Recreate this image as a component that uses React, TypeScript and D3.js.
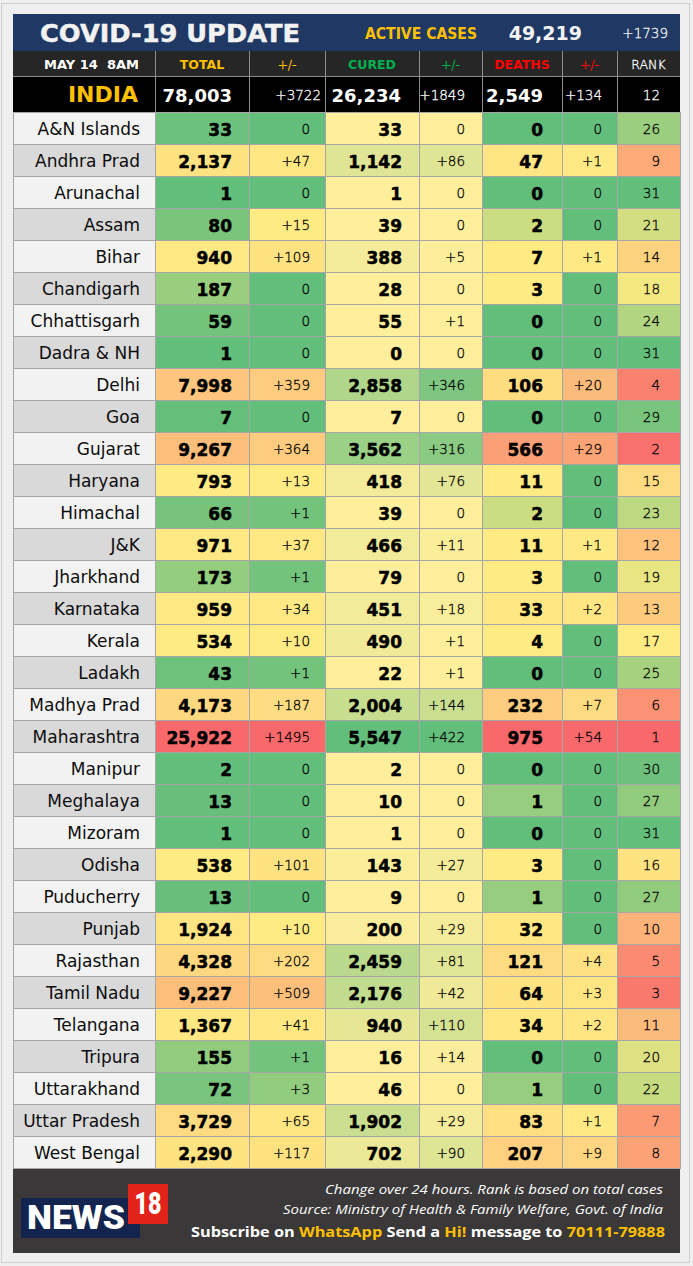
import * as d3 from 'd3'

// ---- data ----
const states = ['A&N Islands', 'Andhra Prad', 'Arunachal', 'Assam', 'Bihar', 'Chandigarh', 'Chhattisgarh', 'Dadra & NH', 'Delhi', 'Goa', 'Gujarat', 'Haryana', 'Himachal', 'J&K', 'Jharkhand', 'Karnataka', 'Kerala', 'Ladakh', 'Madhya Prad', 'Maharashtra', 'Manipur', 'Meghalaya', 'Mizoram', 'Odisha', 'Puducherry', 'Punjab', 'Rajasthan', 'Tamil Nadu', 'Telangana', 'Tripura', 'Uttarakhand', 'Uttar Pradesh', 'West Bengal']
const total = [33, 2137, 1, 80, 940, 187, 59, 1, 7998, 7, 9267, 793, 66, 971, 173, 959, 534, 43, 4173, 25922, 2, 13, 1, 538, 13, 1924, 4328, 9227, 1367, 155, 72, 3729, 2290]
const totalChange = [0, 47, 0, 15, 109, 0, 0, 0, 359, 0, 364, 13, 1, 37, 1, 34, 10, 1, 187, 1495, 0, 0, 0, 101, 0, 10, 202, 509, 41, 1, 3, 65, 117]
const cured = [33, 1142, 1, 39, 388, 28, 55, 0, 2858, 7, 3562, 418, 39, 466, 79, 451, 490, 22, 2004, 5547, 2, 10, 1, 143, 9, 200, 2459, 2176, 940, 16, 46, 1902, 702]
const curedChange = [0, 86, 0, 0, 5, 0, 1, 0, 346, 0, 316, 76, 0, 11, 0, 18, 1, 1, 144, 422, 0, 0, 0, 27, 0, 29, 81, 42, 110, 14, 0, 29, 90]
const deaths = [0, 47, 0, 2, 7, 3, 0, 0, 106, 0, 566, 11, 2, 11, 3, 33, 4, 0, 232, 975, 0, 1, 0, 3, 1, 32, 121, 64, 34, 0, 1, 83, 207]
const deathsChange = [0, 1, 0, 0, 1, 0, 0, 0, 20, 0, 29, 0, 0, 1, 0, 2, 0, 0, 7, 54, 0, 0, 0, 0, 0, 0, 4, 3, 2, 0, 0, 1, 9]
const rank = [26, 9, 31, 21, 14, 18, 24, 31, 4, 29, 2, 15, 23, 12, 19, 13, 17, 25, 6, 1, 30, 27, 31, 16, 27, 10, 5, 3, 11, 20, 22, 7, 8]

const headers = ['MAY 14  8AM', 'TOTAL', '+/-', 'CURED', '+/-', 'DEATHS', '+/-', 'RANK']
const india = [78003, 3722, 26234, 1849, 2549, 134, 12]
const activeCases = 49219
const activeChange = 1739

// ---- layout ----
const W = 693
const H = 1266
const cols = [13, 155, 249, 325, 419, 482, 562, 617, 680]
const bodyRight = [140, 232, 310, 402, 465, 543, 602, 660]
const indiaRight = [138, 232, 321, 401, 465, 543, 602, 660]
const headerColors = ['#ffffff', '#ffc000', '#ffc000', '#00b050', '#00b050', '#ff0000', '#ff0000', '#ffffff']
const headerWeights = [700, 700, 300, 700, 300, 700, 300, 300]

const FONT = "'DejaVu Sans', sans-serif"
const GREEN = '#63be7b'
const YELLOW = '#ffeb84'
const RED = '#f8696b'
const PALE = '#ffef9c'

// excel style 3 colour scale: min / 50th percentile / max
const threeScale = (vals: number[], lo: string, hi: string) => {
  const s = vals.slice().sort(d3.ascending)
  const min = s[0], max = s[s.length - 1]
  const mid = d3.quantile(s, 0.5) as number
  return (v: number) => {
    if (v <= min) return lo
    if (v <= mid) return d3.interpolateRgb(lo, YELLOW)((v - min) / (mid - min))
    return d3.interpolateRgb(YELLOW, hi)((v - mid) / (max - mid))
  }
}
const twoScale = (vals: number[]) => {
  const sc = d3.scaleLinear<string>().domain(d3.extent(vals) as [number, number]).range([PALE, GREEN]).interpolate(d3.interpolateRgb)
  return (v: number) => sc(v)
}

const fmt = d3.format(',')
const fmtChange = (v: number) => (v > 0 ? '+' + v : '0')

const columns = [
  { vals: total, color: threeScale(total, GREEN, RED), text: fmt, bold: true },
  { vals: totalChange, color: threeScale(totalChange, GREEN, RED), text: fmtChange, bold: false },
  { vals: cured, color: twoScale(cured), text: fmt, bold: true },
  { vals: curedChange, color: twoScale(curedChange), text: fmtChange, bold: false },
  { vals: deaths, color: threeScale(deaths, GREEN, RED), text: fmt, bold: true },
  { vals: deathsChange, color: threeScale(deathsChange, GREEN, RED), text: fmtChange, bold: false },
  { vals: rank, color: threeScale(rank, RED, GREEN), text: (v: number) => String(v), bold: false },
]

export default function App() {
  const y = d3.scaleBand().domain(states).range([112, 1168])
  const bh = y.bandwidth()

  return (
    <svg width={W} height={H} style={{ position: 'absolute', left: 0, top: 0, display: 'block' }} fontFamily={FONT}>
      <rect width={W} height={H} fill="#efefef" />
      <rect x={1.5} y={3.5} width={688} height={1259} fill="none" stroke="#cfcfcf" />

      {/* title bar */}
      <rect x={13} y={14} width={667} height={37} fill="#1f3864" />
      <text x={40} y={42} fontSize={25} fontWeight={700} fill="#f2f2f2" stroke="#f2f2f2" strokeWidth={0.5}
        textLength={260} lengthAdjust="spacingAndGlyphs">COVID-19 UPDATE</text>
      <text x={365} y={38.5} fontSize={15} fontWeight={700} fill="#ffc000" textLength={112} lengthAdjust="spacingAndGlyphs">ACTIVE CASES</text>
      <text x={582} y={40} fontSize={19} fontWeight={700} fill="#f2f2f2" textAnchor="end">{fmt(activeCases)}</text>
      <text x={668} y={38} fontSize={13.5} fontWeight={300} fill="#f2f2f2" stroke="#f2f2f2" strokeWidth={0.3}
        textAnchor="end">{'+' + activeChange}</text>

      {/* header row */}
      <rect x={13} y={51} width={667} height={25} fill="#262626" />
      {headers.map((h, i) => (
        <text key={'h' + i} x={i === 0 ? 139 : (cols[i] + cols[i + 1]) / 2} y={68.5} fontSize={i === 0 ? 13 : 12.5}
          fontWeight={headerWeights[i]} fill={headerColors[i]} textAnchor={i === 0 ? 'end' : 'middle'}
          stroke={headerWeights[i] === 300 ? headerColors[i] : 'none'} strokeWidth={0.3}
          style={{ whiteSpace: 'pre' }}>{h}</text>
      ))}

      {/* india row */}
      <rect x={13} y={76} width={667} height={36} fill="#000000" />
      <text x={indiaRight[0]} y={102} fontSize={22} fontWeight={700} fill="#ffc000" textAnchor="end">INDIA</text>
      {india.map((v, i) => {
        const big = i % 2 === 0 && i < 6
        return (
          <text key={'in' + i} x={indiaRight[i + 1]} y={big ? 101.5 : 100} textAnchor="end" fill="#ffffff"
            stroke={big ? 'none' : '#ffffff'} strokeWidth={0.3}
            fontSize={big ? 18 : 13.5} fontWeight={big ? 700 : 300}>
            {i === 6 ? String(v) : i % 2 === 0 ? fmt(v) : '+' + v}
          </text>
        )
      })}
      {cols.slice(1, -1).map((c) => (
        <line key={'v' + c} x1={c + 0.5} x2={c + 0.5} y1={51} y2={112} stroke="#8c8c8c" />
      ))}
      <line x1={13} x2={680} y1={76.5} y2={76.5} stroke="#8c8c8c" />

      {/* body */}
      {states.map((s, r) => {
        const top = y(s) as number
        return (
          <g key={s}>
            <rect x={cols[0] + 0.5} y={top + 0.5} width={cols[1] - cols[0]} height={bh}
              fill={r % 2 === 0 ? '#f2f2f2' : '#d9d9d9'} stroke="#a6a6a6" />
            <text x={bodyRight[0]} y={top + 23} fontSize={17} fill="#0d0d0d" textAnchor="end">{s}</text>
            {columns.map((c, ci) => (
              <g key={ci}>
                <rect x={cols[ci + 1] + 0.5} y={top + 0.5} width={cols[ci + 2] - cols[ci + 1]} height={bh}
                  fill={c.color(c.vals[r])} stroke="#a6a6a6" />
                <text x={bodyRight[ci + 1]} y={c.bold ? top + 24 : top + 22} textAnchor="end" fill="#000000"
                  stroke="#000000" strokeWidth={c.bold ? 0.5 : 0.3}
                  fontSize={c.bold ? 17 : 13.5} fontWeight={c.bold ? 700 : 300}>{c.text(c.vals[r])}</text>
              </g>
            ))}
          </g>
        )
      })}

      {/* footer */}
      <rect x={13} y={1169} width={667} height={84} fill="#3a3838" />
      <rect x={21} y={1198} width={119} height={40} fill="#13254f" />
      <text x={27} y={1229} fontFamily="Roboto, sans-serif" fontSize={34} fontWeight={900} fill="#ffffff"
        textLength={98} lengthAdjust="spacingAndGlyphs">NEWS</text>
      <rect x={128} y={1184} width={40} height={40} fill="#e2231a" />
      <text x={148} y={1214} fontFamily="Roboto, sans-serif" fontSize={31} fontWeight={900} fill="#ffffff"
        textAnchor="middle" textLength={27} lengthAdjust="spacingAndGlyphs">18</text>
      <text x={663} y={1194} fontFamily="'Open Sans', sans-serif" fontStyle="italic" fontSize={13} fill="#ffffff"
        textAnchor="end" textLength={338} lengthAdjust="spacingAndGlyphs">Change over 24 hours. Rank is based on total cases</text>
      <text x={663} y={1214} fontFamily="'Open Sans', sans-serif" fontStyle="italic" fontSize={13} fill="#ffffff"
        textAnchor="end" textLength={380} lengthAdjust="spacingAndGlyphs">Source: Ministry of Health &amp; Family Welfare, Govt. of India</text>
      <text x={191} y={1237} fontFamily="'Open Sans', sans-serif" fontSize={15} fontWeight={700} fill="#ffffff"
        textLength={474} lengthAdjust="spacingAndGlyphs">
        Subscribe on <tspan fill="#ffc000">WhatsApp</tspan> Send a <tspan fill="#ffc000">Hi!</tspan> message to <tspan fill="#ffc000">70111-79888</tspan>
      </text>
    </svg>
  )
}
